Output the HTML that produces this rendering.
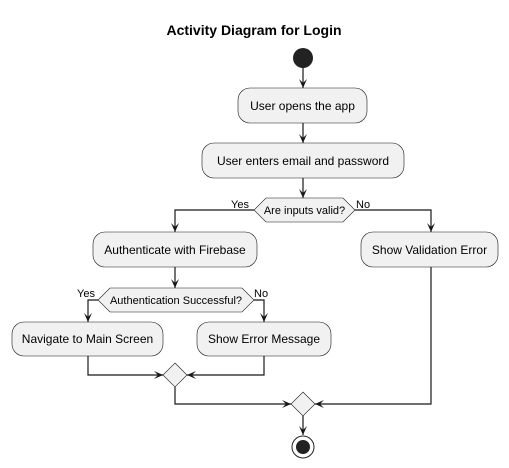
<!DOCTYPE html>
<html><head><meta charset="utf-8"><style>
html,body{margin:0;padding:0;background:#fff;}
svg{display:block;}
text{font-family:"Liberation Sans",sans-serif;fill:#000;}
</style></head><body>
<svg width="509" height="468" viewBox="0 0 509 468" xmlns="http://www.w3.org/2000/svg">
<defs>
<marker id="a" markerWidth="10" markerHeight="12" refX="9" refY="5" orient="auto" markerUnits="userSpaceOnUse">
<path d="M0,1 L9,5 L0,9 L4,5 Z" fill="#181818"/>
</marker>
</defs>
<text x="254" y="35" font-size="14" font-weight="bold" text-anchor="middle">Activity Diagram for Login</text>
<circle cx="303" cy="58" r="10" fill="#222"/>
<g stroke="#181818" stroke-width="1.2" fill="none">
<line x1="303" y1="68" x2="303" y2="88" marker-end="url(#a)"/>
<line x1="303" y1="123" x2="303" y2="143" marker-end="url(#a)"/>
<line x1="303" y1="178" x2="303" y2="198" marker-end="url(#a)"/>
<polyline points="254,210 175,210 175,232" marker-end="url(#a)"/>
<polyline points="355,210 431,210 431,232" marker-end="url(#a)"/>
<line x1="175" y1="267" x2="175" y2="288" marker-end="url(#a)"/>
<polyline points="98,300 88,300 88,322" marker-end="url(#a)"/>
<polyline points="254,300 264,300 264,322" marker-end="url(#a)"/>
<polyline points="88,356 88,375 163,375" marker-end="url(#a)"/>
<polyline points="264,356 264,375 187,375" marker-end="url(#a)"/>
<polyline points="175,387 175,404 291,404" marker-end="url(#a)"/>
<polyline points="431,267 431,404 315,404" marker-end="url(#a)"/>
<line x1="303" y1="416" x2="303" y2="435" marker-end="url(#a)"/>
</g>
<g fill="#f1f1f1" stroke="#181818" stroke-width="0.6">
<rect x="238" y="88" width="129" height="35" rx="12"/>
<rect x="202" y="143" width="202" height="35" rx="12"/>
<polygon points="254,210 266,198 343,198 355,210 343,222 266,222"/>
<rect x="93" y="232" width="164" height="35" rx="12"/>
<rect x="361" y="232" width="137" height="35" rx="12"/>
<polygon points="98,300 110,288 242,288 254,300 242,312 110,312"/>
<rect x="12" y="322" width="151" height="34" rx="12"/>
<rect x="197" y="322" width="134" height="34" rx="12"/>
<polygon points="175,363 187,375 175,387 163,375"/>
<polygon points="303,392 315,404 303,416 291,404"/>
</g>
<circle cx="303" cy="447" r="11" fill="none" stroke="#222" stroke-width="1"/>
<circle cx="303" cy="447" r="7" fill="#222"/>
<g font-size="12" text-anchor="middle">
<text x="302.5" y="110">User opens the app</text>
<text x="303" y="165">User enters email and password</text>
<text x="175" y="254">Authenticate with Firebase</text>
<text x="429.5" y="254">Show Validation Error</text>
<text x="87.5" y="343">Navigate to Main Screen</text>
<text x="264" y="343">Show Error Message</text>
</g>
<g font-size="11">
<text x="304.5" y="214" text-anchor="middle">Are inputs valid?</text>
<text x="176" y="304" text-anchor="middle">Authentication Successful?</text>
<text x="231" y="208">Yes</text>
<text x="356" y="208">No</text>
<text x="77" y="297">Yes</text>
<text x="254" y="297">No</text>
</g>
</svg>
</body></html>
